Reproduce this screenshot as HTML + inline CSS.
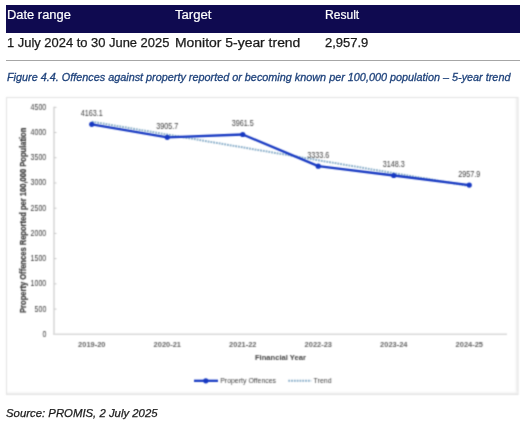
<!DOCTYPE html>
<html><head><meta charset="utf-8">
<style>
html,body{margin:0;padding:0;background:#fff;width:524px;height:421px;overflow:hidden;position:relative;font-family:"Liberation Sans",sans-serif;}
.t{position:absolute;white-space:nowrap;line-height:1;transform-origin:0 0;}
#hdr{position:absolute;left:6px;top:5px;width:514px;height:28px;background:#0f0a50;}
.h{color:#fff;font-size:12px;-webkit-text-stroke:0.2px #fff;}
.d{color:#1a1a1a;font-size:12px;-webkit-text-stroke:0.25px #1a1a1a;}
#rule{position:absolute;left:6px;top:60px;width:514px;height:1px;background:#a6a6a6;}
.cap{color:#1c407a;font-size:11px;font-style:italic;-webkit-text-stroke:0.3px #1c407a;}
.src{color:#1a1a1a;font-size:11px;font-style:italic;-webkit-text-stroke:0.25px #1a1a1a;}
/*CHART*/
#chart{position:absolute;left:0;top:0;font-family:"Liberation Sans",sans-serif;}
.yl{font-size:8.5px;font-weight:normal;fill:#3a3a3a;}
.xl{font-size:8.0px;font-weight:bold;fill:#636363;}
.at,.yt{font-weight:bold;fill:#404040;}
.yt{stroke:#333;stroke-width:0.2px;}
.at{font-size:8.0px;}
.yt{font-size:8.2px;}
.dl{font-size:8.2px;font-weight:normal;fill:#3a3a3a;}
.lg{font-size:7.4px;fill:#404040;}
/*END*/















</style></head><body>
<div id="hdr"></div>
<span class="t h" id="h1" style="left:7px;top:9px;transform:scaleX(1.0758)">Date range</span>
<span class="t h" id="h2" style="left:175px;top:9px;transform:scaleX(1.0941)">Target</span>
<span class="t h" id="h3" style="left:325px;top:9px;transform:scaleX(1.0057)">Result</span>
<span class="t d" id="d1" style="left:7px;top:37px;transform:scaleX(1.0768)">1 July 2024 to 30 June 2025</span>
<span class="t d" id="d2" style="left:175px;top:37px;transform:scaleX(1.1602)">Monitor 5-year trend</span>
<span class="t d" id="d3" style="left:325px;top:37px;transform:scaleX(1.0825)">2,957.9</span>
<div id="rule"></div>
<span class="t cap" id="cap" style="left:7px;top:72px;transform:scaleX(0.9848)">Figure 4.4. Offences against property reported or becoming known per 100,000 population – 5-year trend</span>
<svg id="chart" width="524" height="421" viewBox="0 0 524 421">
<defs><filter id="bl" x="0" y="0" width="524" height="421" filterUnits="userSpaceOnUse" color-interpolation-filters="sRGB"><feConvolveMatrix order="3" kernelMatrix="1 3 1 3 9 3 1 3 1" edgeMode="duplicate"/></filter></defs><g filter="url(#bl)"><rect x="6.5" y="97.5" width="511.5" height="297" fill="#fff" stroke="#e4e4e4" stroke-width="1.1"/>
<linearGradient id="gr" x1="0" x2="1" y1="0" y2="0"><stop offset="0" stop-color="#fff" stop-opacity="0"/><stop offset="1" stop-color="#e8e8e8"/></linearGradient><linearGradient id="gb" x1="0" x2="0" y1="0" y2="1"><stop offset="0" stop-color="#fff" stop-opacity="0"/><stop offset="1" stop-color="#e8e8e8"/></linearGradient><rect x="513.5" y="98" width="4" height="296" fill="url(#gr)"/><rect x="7" y="390.5" width="510.5" height="3.5" fill="url(#gb)"/>
<line x1="54" y1="106.8" x2="54" y2="334.3" stroke="#d9d9d9" stroke-width="1.6"/>
<line x1="53.2" y1="334.3" x2="507" y2="334.3" stroke="#d9d9d9" stroke-width="1.6"/>
<line x1="54" y1="309.08" x2="56.5" y2="309.08" stroke="#c8c8c8" stroke-width="1"/>
<line x1="54" y1="283.86" x2="56.5" y2="283.86" stroke="#c8c8c8" stroke-width="1"/>
<line x1="54" y1="258.64" x2="56.5" y2="258.64" stroke="#c8c8c8" stroke-width="1"/>
<line x1="54" y1="233.42" x2="56.5" y2="233.42" stroke="#c8c8c8" stroke-width="1"/>
<line x1="54" y1="208.20" x2="56.5" y2="208.20" stroke="#c8c8c8" stroke-width="1"/>
<line x1="54" y1="182.98" x2="56.5" y2="182.98" stroke="#c8c8c8" stroke-width="1"/>
<line x1="54" y1="157.76" x2="56.5" y2="157.76" stroke="#c8c8c8" stroke-width="1"/>
<line x1="54" y1="132.54" x2="56.5" y2="132.54" stroke="#c8c8c8" stroke-width="1"/>
<line x1="54" y1="107.32" x2="56.5" y2="107.32" stroke="#c8c8c8" stroke-width="1"/>
<text transform="translate(46.30,336.74) scale(0.830,1)" text-anchor="end" class="yl">0</text>
<text transform="translate(46.30,311.52) scale(0.830,1)" text-anchor="end" class="yl">500</text>
<text transform="translate(46.30,286.30) scale(0.830,1)" text-anchor="end" class="yl">1000</text>
<text transform="translate(46.30,261.08) scale(0.830,1)" text-anchor="end" class="yl">1500</text>
<text transform="translate(46.30,235.86) scale(0.830,1)" text-anchor="end" class="yl">2000</text>
<text transform="translate(46.30,210.64) scale(0.830,1)" text-anchor="end" class="yl">2500</text>
<text transform="translate(46.30,185.42) scale(0.830,1)" text-anchor="end" class="yl">3000</text>
<text transform="translate(46.30,160.20) scale(0.830,1)" text-anchor="end" class="yl">3500</text>
<text transform="translate(46.30,134.98) scale(0.830,1)" text-anchor="end" class="yl">4000</text>
<text transform="translate(46.30,109.76) scale(0.830,1)" text-anchor="end" class="yl">4500</text>
<text transform="translate(91.75,347.26) scale(0.930,1)" text-anchor="middle" class="xl">2019-20</text>
<text transform="translate(167.25,347.26) scale(0.930,1)" text-anchor="middle" class="xl">2020-21</text>
<text transform="translate(242.75,347.26) scale(0.930,1)" text-anchor="middle" class="xl">2021-22</text>
<text transform="translate(318.25,347.26) scale(0.930,1)" text-anchor="middle" class="xl">2022-23</text>
<text transform="translate(393.75,347.26) scale(0.930,1)" text-anchor="middle" class="xl">2023-24</text>
<text transform="translate(469.25,347.26) scale(0.930,1)" text-anchor="middle" class="xl">2024-25</text>
<text transform="translate(280.40,359.96) scale(0.950,1)" text-anchor="middle" class="at">Financial Year</text>
<text transform="translate(25.90,220.3) rotate(-90) scale(0.925,1)" text-anchor="middle" class="yt">Property Offences Reported per 100,000 Population</text>
<line x1="91.75" y1="121.65" x2="469.25" y2="185.97" stroke="#86acc8" stroke-width="2.0" stroke-dasharray="1.8 1"/>
<polyline points="91.75,124.31 167.25,137.30 242.75,134.48 318.25,166.15 393.75,175.50 469.25,185.10" fill="none" stroke="#1638c2" stroke-width="2.3" stroke-linejoin="round"/>
<circle cx="91.75" cy="124.31" r="2.6" fill="#1638c2"/>
<circle cx="167.25" cy="137.30" r="2.6" fill="#1638c2"/>
<circle cx="242.75" cy="134.48" r="2.6" fill="#1638c2"/>
<circle cx="318.25" cy="166.15" r="2.6" fill="#1638c2"/>
<circle cx="393.75" cy="175.50" r="2.6" fill="#1638c2"/>
<circle cx="469.25" cy="185.10" r="2.6" fill="#1638c2"/>
<text transform="translate(91.75,116.05) scale(0.880,1)" text-anchor="middle" class="dl">4163.1</text>
<text transform="translate(167.25,129.03) scale(0.880,1)" text-anchor="middle" class="dl">3905.7</text>
<text transform="translate(242.75,126.22) scale(0.880,1)" text-anchor="middle" class="dl">3961.5</text>
<text transform="translate(318.25,157.89) scale(0.880,1)" text-anchor="middle" class="dl">3333.6</text>
<text transform="translate(393.75,167.24) scale(0.880,1)" text-anchor="middle" class="dl">3148.3</text>
<text transform="translate(469.25,176.84) scale(0.880,1)" text-anchor="middle" class="dl">2957.9</text>
<line x1="194" y1="380.8" x2="218" y2="380.8" stroke="#1638c2" stroke-width="2.3"/>
<circle cx="205.8" cy="380.8" r="2.6" fill="#1638c2"/>
<text transform="translate(220.20,383.45) scale(0.940,1)" text-anchor="start" class="lg">Property Offences</text>
<line x1="288.3" y1="380.8" x2="311.2" y2="380.8" stroke="#86acc8" stroke-width="2.0" stroke-dasharray="1.8 1"/>
<text transform="translate(313.60,383.45) scale(0.940,1)" text-anchor="start" class="lg">Trend</text></g>
</svg>
<span class="t src" id="src" style="left:6px;top:408px;transform:scaleX(1.0327)">Source: PROMIS, 2 July 2025</span>
</body></html>
